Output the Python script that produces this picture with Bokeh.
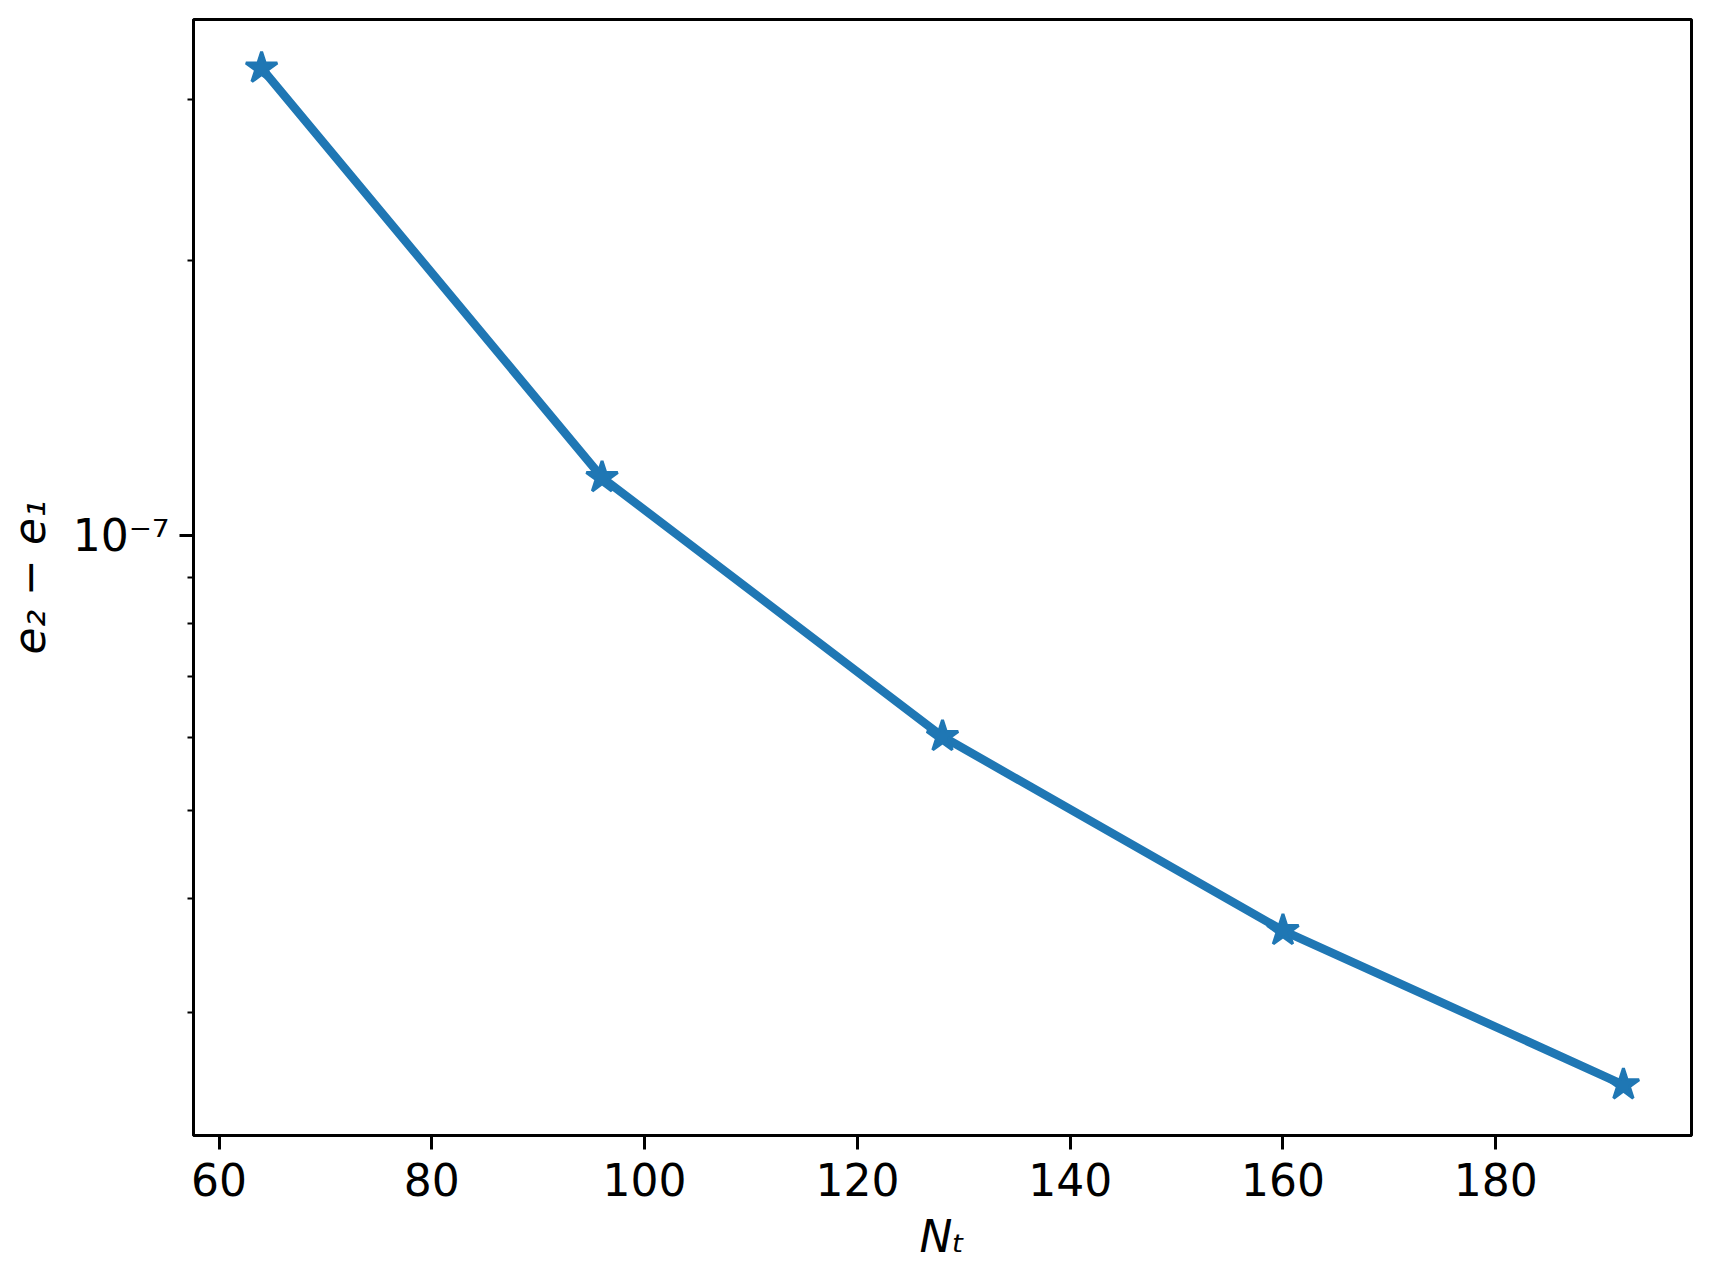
from bokeh.plotting import figure
from bokeh.models import FixedTicker, CustomJSTickFormatter, Range1d
from bokeh.embed import file_html
from bokeh.resources import INLINE

# data
n_t = [64, 96, 128, 160, 192]
e_diff = [3.25e-7, 1.157e-7, 6.02e-8, 3.69e-8, 2.50e-8]

x_ticks = [60, 80, 100, 120, 140, 160, 180]
y_major_ticks = [1e-7]
y_minor_ticks = [3e-8, 4e-8, 5e-8, 6e-8, 7e-8, 8e-8, 9e-8, 2e-7, 3e-7]

x_label = "Nₜ"
y_label = "e₂ − e₁"

color = "#1f77b4"

p = figure(
    frame_width=1498, frame_height=1116,
    y_axis_type="log",
    x_range=Range1d(57.6, 198.4),
    y_range=Range1d(2.20e-8, 3.675e-7),
    output_backend="svg", toolbar_location=None,
    min_border_left=187, min_border_right=7, min_border_top=19, min_border_bottom=10,
)

p.line(n_t, e_diff, line_color=color, line_width=8.5)
p.scatter(n_t, e_diff, marker="star", size=33, fill_color=color, line_color=color, line_width=3)

p.grid.visible = False
p.outline_line_color = "black"
p.outline_line_width = 3

p.xaxis.ticker = FixedTicker(ticks=x_ticks)
p.yaxis.ticker = FixedTicker(ticks=y_major_ticks, minor_ticks=y_minor_ticks)
p.yaxis.formatter = CustomJSTickFormatter(code="""
const e = Math.round(Math.log10(tick));
const sup = {"-": "\u207b", "0": "\u2070", "1": "\u00b9", "2": "\u00b2", "3": "\u00b3",
             "4": "\u2074", "5": "\u2075", "6": "\u2076", "7": "\u2077", "8": "\u2078", "9": "\u2079"};
return "10" + String(e).split("").map(c => sup[c]).join("");
""")

for ax in (p.xaxis, p.yaxis):
    ax.axis_line_width = 3
    ax.axis_line_color = "black"
    ax.major_tick_line_width = 3
    ax.major_tick_line_color = "black"
    ax.major_tick_out = 14
    ax.major_tick_in = 0
    ax.minor_tick_line_width = 2
    ax.minor_tick_line_color = "black"
    ax.minor_tick_out = 6
    ax.minor_tick_in = 0
    ax.major_label_text_font = "DejaVu Sans"
    ax.major_label_text_font_size = "44px"
    ax.major_label_text_color = "black"
    ax.axis_label_text_font = "DejaVu Sans"
    ax.axis_label_text_font_size = "44px"
    ax.axis_label_text_font_style = "italic"
    ax.axis_label_text_color = "black"

p.xaxis.axis_label = x_label
p.yaxis.axis_label = y_label
p.xaxis.major_label_standoff = 13
p.yaxis.major_label_standoff = 10
p.xaxis.axis_label_standoff = 12
p.yaxis.axis_label_standoff = 15

open("out.html", "w").write(file_html(p, INLINE))
